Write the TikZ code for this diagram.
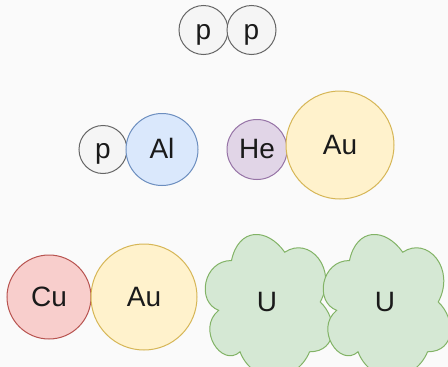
\documentclass[tikz,border=0pt]{standalone}
\usepackage{fontspec}
\setmainfont{Liberation Sans}
\definecolor{bgc}{HTML}{FAFAFA}
\definecolor{txt}{HTML}{1A1A1A}
\definecolor{grayF}{HTML}{F5F5F5}\definecolor{grayD}{HTML}{666666}
\definecolor{blueF}{HTML}{DAE8FC}\definecolor{blueD}{HTML}{6C8EBF}
\definecolor{purpF}{HTML}{E1D5E7}\definecolor{purpD}{HTML}{9673A6}
\definecolor{yellF}{HTML}{FFF2CC}\definecolor{yellD}{HTML}{D6B656}
\definecolor{redF}{HTML}{F8CECC}\definecolor{redD}{HTML}{B85450}
\definecolor{greenF}{HTML}{D5E8D4}\definecolor{greenD}{HTML}{82B366}
\tikzset{
  label font/.style={text=txt, font=\fontsize{28}{33}\selectfont,
    text height=24pt, text depth=6pt},
  atom/.style={circle, inner sep=0pt, line width=1pt, label font},
  gray atom/.style={atom, fill=grayF, draw=grayD},
  blue atom/.style={atom, fill=blueF, draw=blueD},
  purple atom/.style={atom, fill=purpF, draw=purpD},
  yellow atom/.style={atom, fill=yellF, draw=yellD},
  red atom/.style={atom, fill=redF, draw=redD},
  cloudfill/.style={fill=greenF, draw=greenD, line width=1pt},
  cloudlabel/.style={inner sep=0pt, label font}
}
% cloud outline inside a box given by its top-left corner (#1,#2) and size #3 x #4
\newcommand\cloudpath[4]{%
  \begin{scope}[shift={(#1,#2)}, x=#3pt, y=-#4pt]
    \draw[cloudfill] (0.25,0.25)
      .. controls (0.05,0.25) and (0,0.5) .. (0.16,0.55)
      .. controls (0,0.66) and (0.18,0.9) .. (0.31,0.8)
      .. controls (0.4,1) and (0.7,1) .. (0.8,0.8)
      .. controls (1,0.8) and (1,0.6) .. (0.875,0.5)
      .. controls (1,0.3) and (0.8,0.1) .. (0.625,0.2)
      .. controls (0.5,0.05) and (0.3,0.05) .. (0.25,0.25) -- cycle;
  \end{scope}}
\begin{document}
\begin{tikzpicture}[x=1pt, y=-1pt]
  \clip (0,0) rectangle (448,367);
  \fill[bgc] (0,0) rectangle (448,367);

  % top pair
  \node[gray atom, minimum size=49pt] (p1) at (203.5,30) {p};
  \node[gray atom, minimum size=49pt] (p2) at (251.5,30) {p};

  % middle row
  \node[gray atom, minimum size=48pt] (p3) at (103,149.5) {p};
  \node[blue atom, minimum size=72pt] (al) at (162,149.5) {Al};
  \node[purple atom, minimum size=60pt] (he) at (257,149.5) {He};
  \node[yellow atom, minimum size=108pt] (au1) at (340,145) {Au};

  % bottom row
  \node[red atom, minimum size=84pt] (cu) at (49,297) {Cu};
  \node[yellow atom, minimum size=106pt] (au2) at (144,297) {Au};

  \cloudpath{196}{219}{142}{166}
  \node[cloudlabel] (u1) at (267,302) {U};
  \cloudpath{314}{219}{142}{166}
  \node[cloudlabel] (u2) at (385,302) {U};
\end{tikzpicture}
\end{document}
